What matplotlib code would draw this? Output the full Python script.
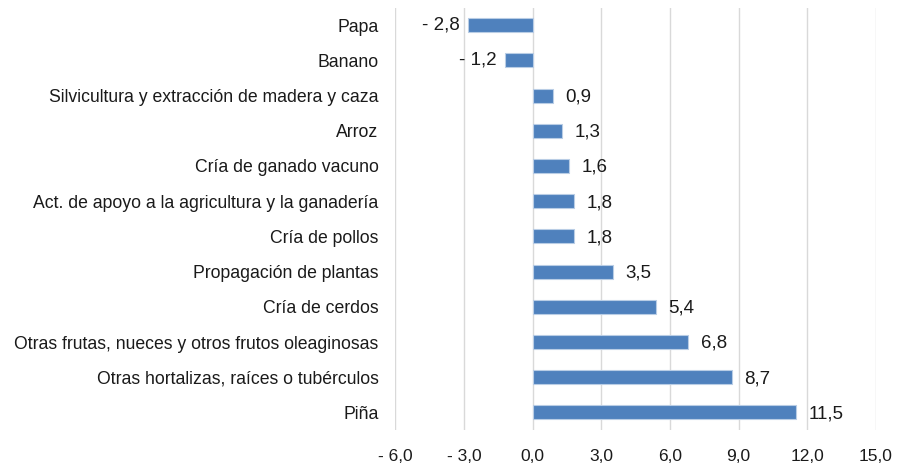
import matplotlib
matplotlib.use('Agg')
import matplotlib.pyplot as plt
import numpy as np

# Data (top to bottom as shown)
categories = [
    'Papa',
    'Banano',
    'Silvicultura y extracción de madera y caza',
    'Arroz',
    'Cría de ganado vacuno',
    'Act. de apoyo a la agricultura y la ganadería',
    'Cría de pollos',
    'Propagación de plantas',
    'Cría de cerdos',
    'Otras frutas, nueces y otros frutos oleaginosas',
    'Otras hortalizas, raíces o tubérculos',
    'Piña',
]
values = [-2.8, -1.2, 0.9, 1.3, 1.6, 1.8, 1.8, 3.5, 5.4, 6.8, 8.7, 11.5]
x_ticks = [-6, -3, 0, 3, 6, 9, 12, 15]


def fmt(v):
    s = f'{abs(v):.1f}'.replace('.', ',')
    return f'- {s}' if v < 0 else s


plt.rcParams['font.family'] = ['Liberation Sans', 'DejaVu Sans']
text_color = '#1a1a1a'

fig = plt.figure(figsize=(8.98, 4.70), dpi=100)
ax = fig.add_axes([0.44, 0.085, 0.5355, 0.899])

y = np.arange(len(categories))
ax.barh(y, values, height=0.4, color='#4f81bd', edgecolor='#b9cde5', linewidth=0.8, zorder=3)

# value labels next to the bars
for yi, v in zip(y, values):
    if v < 0:
        ax.annotate(fmt(v), xy=(v, yi), xytext=(-6, 0), textcoords='offset points',
                    ha='right', va='center', fontsize=13.5, color=text_color)
    else:
        ax.annotate(fmt(v), xy=(v, yi), xytext=(9, -1), textcoords='offset points',
                    ha='left', va='center', fontsize=13.5, color=text_color)

ax.set_yticks(y)
ax.set_yticklabels(categories, fontsize=12.7, color=text_color)
ax.set_ylim(len(categories) - 0.5, -0.5)

ax.set_xlim(-6, 15)
ax.set_xticks(x_ticks)
ax.set_xticklabels([fmt(t) for t in x_ticks], fontsize=12.5, color=text_color)
ax.grid(axis='x', color='#d9d9d9', linewidth=1, zorder=0)
ax.tick_params(axis='x', length=0, pad=14)
ax.tick_params(axis='y', length=0, pad=12)
for s in ax.spines.values():
    s.set_visible(False)

fig.savefig('out.png', dpi=100)
plt.close(fig)
